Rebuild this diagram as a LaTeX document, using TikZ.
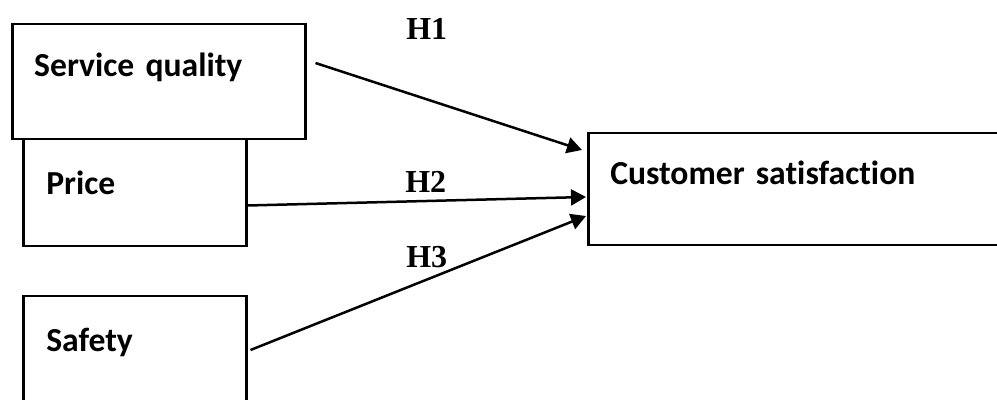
\documentclass[tikz,border=0pt]{standalone}
\usepackage{fontspec}
\setsansfont{Carlito}[Ligatures=NoCommon]
\newfontfamily\hfont{Liberation Serif}
\usetikzlibrary{arrows.meta}

\begin{document}
\begin{tikzpicture}[x=0.5pt,y=-0.5pt,>={Triangle[length=7.5pt,width=8pt]},line width=1.25pt,
    box node/.style={draw,anchor=north west,align=left,inner ysep=0pt,font=\sffamily\bfseries\fontsize{16.8}{19}\selectfont},
    hyp node/.style={anchor=base west,inner sep=0pt,font=\hfont\bfseries\fontsize{16}{18}\selectfont}]
            \useasboundingbox (0,0) rectangle (997,400);
            \node[box node,text width=124.5pt,inner xsep=11pt,text height=26pt,text depth=31.5pt] (sq) at (11,23) {Service quality};
            \node[box node,text width=88.5pt,inner xsep=11.5pt,text height=27.5pt,text depth=26pt] (pr) at (22,138) {Price};
            \node[box node,text width=88.5pt,inner xsep=11.5pt,text height=27.5pt,text depth=28pt] (sf) at (22,295) {Safety};
            \node[box node,text width=187.5pt,inner xsep=11pt,text height=25.5pt,text depth=30.5pt] (cs) at (587,132) {Customer satisfaction};

            \node[hyp node] (h1) at (405,40) {H1};
            \node[hyp node] (h2) at (404,193) {H2};
            \node[hyp node] (h3) at (405,268) {H3};

            \path[->]
                ([shift={(9,40)}]sq.north east) edge ([shift={(-5,18)}]cs.north west)
                ([shift={(0,-42)}]pr.south east) edge ([shift={(-1,65)}]cs.north west)
                ([shift={(3,55)}]sf.north east) edge ([shift={(-1,84)}]cs.north west)
                ;
        \end{tikzpicture}
\end{document}
